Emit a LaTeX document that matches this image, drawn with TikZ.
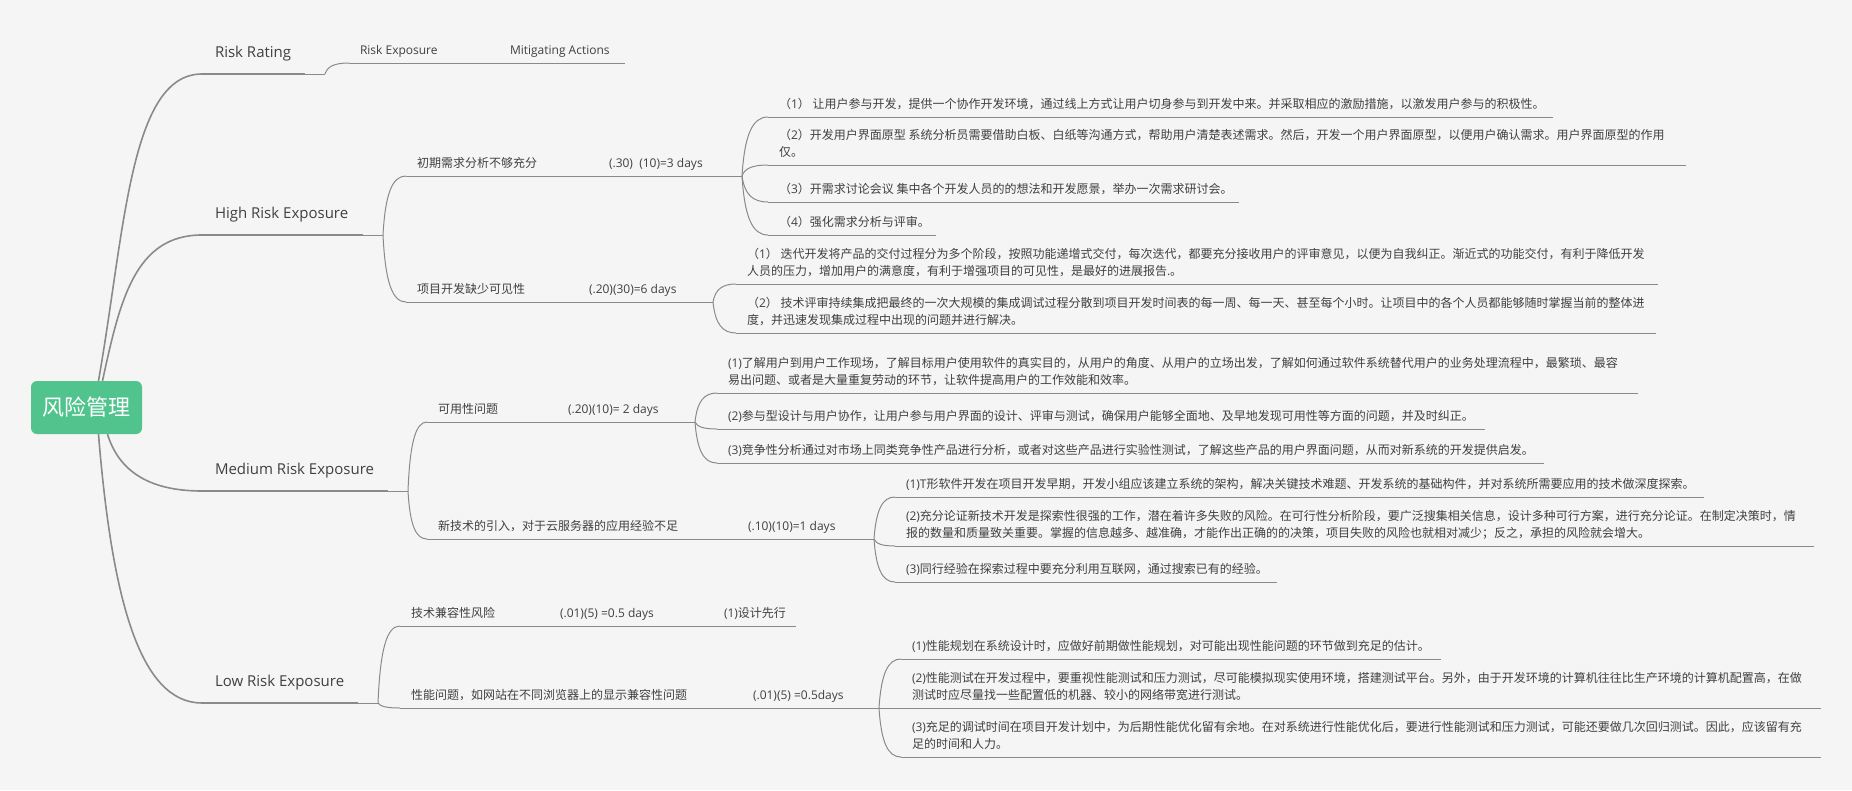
\documentclass[tikz,border=0pt]{standalone}
\usepackage{fontspec}
\setmainfont{Open Sans}
\newfontfamily\cjkfont{Noto Sans CJK SC}
\usetikzlibrary{calc}

% ideographs and CJK punctuation switch to the CJK face
\XeTeXinterchartokenstate=1
\chardef\cjkclass=17
\makeatletter
\def\cjkrange#1#2{\count@=#1\relax
  \loop\XeTeXcharclass\count@=\cjkclass\relax
  \ifnum\count@<#2\relax\advance\count@\@ne\repeat}
\makeatother
\cjkrange{"3000}{"303F}
\cjkrange{"4E00}{"9FFF}
\cjkrange{"FF00}{"FFEF}
\XeTeXinterchartoks 0 \cjkclass = {\cjkfont}
\XeTeXinterchartoks 4095 \cjkclass = {\cjkfont}
\XeTeXinterchartoks \cjkclass 0 = {\normalfont}

\definecolor{paper}{HTML}{F5F5F5}
\definecolor{ink}{HTML}{404040}
\definecolor{wire}{HTML}{8A8A8A}
\definecolor{mint}{HTML}{50C48C}

\tikzset{
  major/.style={anchor=south west, inner xsep=13pt, inner ysep=12.6pt, outer sep=0pt, text=ink,
    font=\fontsize{15}{18}\selectfont, execute at end node={\vrule width 0pt height 0pt depth 4pt}},
  minor/.style={anchor=south west, inner xsep=11pt, inner ysep=5.3pt, outer sep=0pt, text=ink, align=left,
    font=\fontsize{12}{17}\selectfont, execute at end node={\vrule width 0pt height 0pt depth 3.2pt}},
  hub/.style={fill=mint, rounded corners=6pt, minimum width=111pt, minimum height=53pt,
    text=white, font=\fontsize{22}{26}\selectfont},
  trunk/.style={color=wire, line width=1.6pt},
  bar/.style={color=wire, line width=2.2pt},
  uline/.style={color=wire, line width=1pt},
  link/.style={color=wire, line width=1pt},
  curvy/.style={to path={let \p1=(\tikztostart), \p2=(\tikztotarget) in
    .. controls ({\x1+0.1*(\x2-\x1)},{\y1+0.7*(\y2-\y1)}) and ({\x1+0.4*(\x2-\x1)},{\y2}) .. (\tikztotarget)}}
}

\begin{document}
\begin{tikzpicture}[x=1pt, y=-1pt]
  \fill[paper] (0,0) rectangle (1852,790);
  \useasboundingbox (0,0) rectangle (1852,790);
  % central topic
  \node[hub] (root) at (86.5,407.5) {风险管理};
  % main branches
  \node[major] (rating) at (202,74) {Risk Rating};
  \node[major] (high) at (202,235) {High Risk Exposure};
  \node[major] (medium) at (202,491) {Medium Risk Exposure};
  \node[major] (low) at (202,703) {Low Risk Exposure};
  \foreach \n/\len in {rating/103, high/161, medium/186, low/156}
    \draw[bar] (\n.south west) -- ++(\len,0) coordinate (\n-end);
  \foreach \n in {rating, high, medium, low}
    \draw[link] (\n-end) -- ++(20,0) coordinate (\n-fork);
  \draw[trunk] ([xshift=12pt]root.north) .. controls (125,230) and (130,74) .. (rating.south west);
  \draw[trunk] ([xshift=16pt]root.north) .. controls (120,300) and (135,235) .. (high.south west);
  \draw[trunk] ([xshift=21pt]root.south) .. controls (118,468) and (145,491) .. (medium.south west);
  \draw[trunk] ([xshift=12pt]root.south) .. controls (112,600) and (140,703) .. (low.south west);

  % risks and their exposure
  \node[minor] (rexp) at (349,63) {Risk Exposure};
  \node[minor] (mitig) at (499,63) {Mitigating Actions};
  \node[minor] (req) at (406,176) {初期需求分析不够充分};
  \node[minor] (reqe) at (598,176) {(.30)\ \ (10)=3 days};
  \node[minor] (vis) at (406,302) {项目开发缺少可见性};
  \node[minor] (vise) at (578,302) {(.20)(30)=6 days};
  \node[minor] (use) at (427,422) {可用性问题};
  \node[minor] (usee) at (557,422) {(.20)(10)= 2 days};
  \node[minor] (tech) at (427,539) {新技术的引入，对于云服务器的应用经验不足};
  \node[minor] (teche) at (737,539) {(.10)(10)=1 days};
  \node[minor] (compat) at (400,626) {技术兼容性风险};
  \node[minor] (compate) at (549,626) {(.01)(5) =0.5 days};
  \node[minor] (design) at (713,626) {(1)设计先行};
  \node[minor] (perf) at (400,708) {性能问题，如网站在不同浏览器上的显示兼容性问题};
  \node[minor] (perfe) at (742,708) {(.01)(5) =0.5days};

  % mitigating actions
  \node[minor] (r1) at (768,117) {（1） 让用户参与开发，提供一个协作开发环境，通过线上方式让用户切身参与到开发中来。并采取相应的激励措施，以激发用户参与的积极性。};
  \node[minor] (r2) at (768,165) {（2）开发用户界面原型 系统分析员需要借助白板、白纸等沟通方式，帮助用户清楚表述需求。然后，开发一个用户界面原型，以便用户确认需求。用户界面原型的作用\\仅。};
  \node[minor] (r3) at (768,202) {（3）开需求讨论会议 集中各个开发人员的的想法和开发愿景，举办一次需求研讨会。};
  \node[minor] (r4) at (768,235) {（4）强化需求分析与评审。};
  \node[minor] (v1) at (736,284) {（1） 迭代开发将产品的交付过程分为多个阶段，按照功能递增式交付，每次迭代，都要充分接收用户的评审意见，以便为自我纠正。渐近式的功能交付，有利于降低开发\\人员的压力，增加用户的满意度，有利于增强项目的可见性，是最好的进展报告.。};
  \node[minor] (v2) at (736,333) {（2） 技术评审持续集成把最终的一次大规模的集成调试过程分散到项目开发时间表的每一周、每一天、甚至每个小时。让项目中的各个人员都能够随时掌握当前的整体进\\度，并迅速发现集成过程中出现的问题并进行解决。};
  \node[minor] (u1) at (717,393) {(1)了解用户到用户工作现场，了解目标用户使用软件的真实目的，从用户的角度、从用户的立场出发，了解如何通过软件系统替代用户的业务处理流程中，最繁琐、最容\\易出问题、或者是大量重复劳动的环节，让软件提高用户的工作效能和效率。};
  \node[minor] (u2) at (717,429) {(2)参与型设计与用户协作，让用户参与用户界面的设计、评审与测试，确保用户能够全面地、及早地发现可用性等方面的问题，并及时纠正。};
  \node[minor] (u3) at (717,463) {(3)竞争性分析通过对市场上同类竞争性产品进行分析，或者对这些产品进行实验性测试，了解这些产品的用户界面问题，从而对新系统的开发提供启发。};
  \node[minor] (t1) at (895,497) {(1)T形软件开发在项目开发早期，开发小组应该建立系统的架构，解决关键技术难题、开发系统的基础构件，并对系统所需要应用的技术做深度探索。};
  \node[minor] (t2) at (895,546) {(2)充分论证新技术开发是探索性很强的工作，潜在着许多失败的风险。在可行性分析阶段，要广泛搜集相关信息，设计多种可行方案，进行充分论证。在制定决策时，情\\报的数量和质量致关重要。掌握的信息越多、越准确，才能作出正确的的决策，项目失败的风险也就相对减少；反之，承担的风险就会增大。};
  \node[minor] (t3) at (895,582) {(3)同行经验在探索过程中要充分利用互联网，通过搜索已有的经验。};
  \node[minor] (p1) at (901,659) {(1)性能规划在系统设计时，应做好前期做性能规划，对可能出现性能问题的环节做到充足的估计。};
  \node[minor] (p2) at (901,708) {(2)性能测试在开发过程中，要重视性能测试和压力测试，尽可能模拟现实使用环境，搭建测试平台。另外，由于开发环境的计算机往往比生产环境的计算机配置高，在做\\测试时应尽量找一些配置低的机器、较小的网络带宽进行测试。};
  \node[minor] (p3) at (901,757) {(3)充足的调试时间在项目开发计划中，为后期性能优化留有余地。在对系统进行性能优化后，要进行性能测试和压力测试，可能还要做几次回归测试。因此，应该留有充\\足的时间和人力。};

  % underlines
  \foreach \n/\len in {rexp/150, mitig/126, req/192, reqe/144, vis/172, vise/135,
      use/130, usee/138, tech/310, teche/137, compat/149, compate/164, design/83,
      perf/342, perfe/137, r1/785, r2/918, r3/471, r4/168, v1/922, v2/920,
      u1/921, u2/768, u3/827, t1/809, t2/919, t3/382, p1/540, p2/920, p3/920}
    \draw[uline] (\n.south west) -- ++(\len,0) coordinate (\n-end);

  % connectors
  \draw[link] (rating-fork) to[curvy] (rexp.south west);
  \foreach \c in {req, vis} \draw[link] (high-fork) to[curvy] (\c.south west);
  \foreach \c in {use, tech} \draw[link] (medium-fork) to[curvy] (\c.south west);
  \foreach \c in {compat, perf} \draw[link] (low-fork) to[curvy] (\c.south west);
  \foreach \c in {r1, r2, r3, r4} \draw[link] (reqe-end) to[curvy] (\c.south west);
  \foreach \c in {v1, v2} \draw[link] (vise-end) to[curvy] (\c.south west);
  \foreach \c in {u1, u2, u3} \draw[link] (usee-end) to[curvy] (\c.south west);
  \foreach \c in {t1, t2, t3} \draw[link] (teche-end) to[curvy] (\c.south west);
  \foreach \c in {p1, p2, p3} \draw[link] (perfe-end) to[curvy] (\c.south west);
\end{tikzpicture}
\end{document}
